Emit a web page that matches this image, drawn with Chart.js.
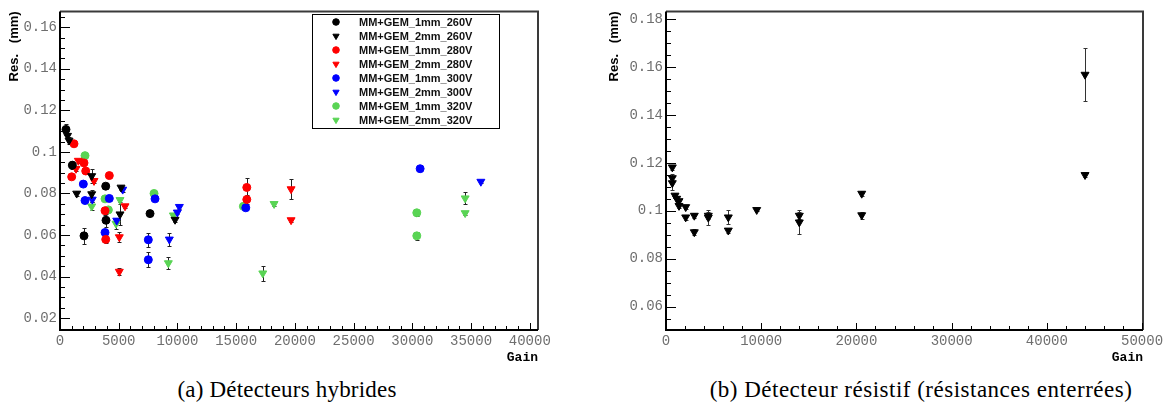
<!DOCTYPE html>
<html>
<head>
<meta charset="utf-8">
<script src="https://cdn.jsdelivr.net/npm/chart.js@4.4.0/dist/chart.umd.min.js"></script>
<style>
  body { margin: 0; background: #fff; width: 1168px; height: 410px; overflow: hidden; position: relative; }
  #boxA { position: absolute; left: 0; top: 0; width: 560px; height: 370px; }
  #boxB { position: absolute; left: 600px; top: 0; width: 568px; height: 370px; }
  .cap { position: absolute; top: 376px; font-family: "Liberation Serif", "DejaVu Serif", serif; font-size: 23px;
         letter-spacing: 0.2px; line-height: 28px; text-align: center; color: #000; white-space: nowrap; }
</style>
</head>
<body>
<div id="boxA"><canvas id="hybrid"></canvas></div>
<div id="boxB"><canvas id="resist"></canvas></div>
<div class="cap" style="left:0;width:574px">(a) Détecteurs hybrides</div>
<div class="cap" style="left:640px;width:562px;letter-spacing:0.5px">(b) Détecteur résistif (résistances enterrées)</div>
<script>
// ---- data ----
// (a) hybrid detectors
const gain_1mm_260V = [510, 1050, 2044, 3893, 3918, 7666];
const res_1mm_260V  = [0.1108, 0.0936, 0.0596, 0.0835, 0.0671, 0.0703];
const err_1mm_260V  = [0.0025, 0.0018, 0.0037, 0.0015, 0.003, 0.001];

const gain_2mm_260V = [640, 770, 1422, 2700, 2700, 5196, 5110, 9796];
const res_2mm_260V  = [0.1078, 0.1055, 0.0800, 0.0884, 0.0797, 0.0829, 0.0700, 0.0674];
const err_2mm_260V  = [0.0015, 0.0015, 0.0012, 0.0036, 0.002, 0.001, 0.005, 0.0012];

const gain_1mm_280V = [996, 1193, 2044, 2190, 4200, 3833, 3893, 15904, 15904];
const res_1mm_280V  = [0.0880, 0.1039, 0.0947, 0.0908, 0.0886, 0.0717, 0.0579, 0.0829, 0.0771];
const err_1mm_280V  = [0.001, 0.0013, 0.001, 0.0015, 0.0012, 0.002, 0.0015, 0.0045, 0.002];

const gain_2mm_280V = [1363, 1560, 2896, 5537, 5050, 5050, 19676, 19676];
const res_2mm_280V  = [0.0919, 0.0958, 0.0861, 0.0739, 0.0590, 0.0424, 0.0821, 0.0672];
const err_2mm_280V  = [0.001, 0.001, 0.0012, 0.001, 0.0025, 0.0015, 0.0048, 0.001];

const gain_1mm_300V = [1985, 2130, 4200, 3833, 7520, 7520, 8092, 15819, 30664];
const res_1mm_300V  = [0.0845, 0.0766, 0.0776, 0.0612, 0.0577, 0.0481, 0.0774, 0.0731, 0.0919];
const err_1mm_300V  = [0.001, 0.001, 0.001, 0.0015, 0.0033, 0.0035, 0.001, 0.001, 0.0012];

const gain_2mm_300V = [2750, 5340, 4830, 9310, 9992, 10163, 35835];
const res_2mm_300V  = [0.0771, 0.0819, 0.0670, 0.0579, 0.0709, 0.0736, 0.0857];
const err_2mm_300V  = [0.001, 0.001, 0.001, 0.003, 0.001, 0.001, 0.0008];

const gain_1mm_320V = [2130, 3833, 4117, 8007, 15614, 30380, 30380];
const res_1mm_320V  = [0.0982, 0.0774, 0.0721, 0.0800, 0.0738, 0.0707, 0.0596];
const err_1mm_320V  = [0.0012, 0.001, 0.001, 0.001, 0.001, 0.0015, 0.002];

const gain_2mm_320V = [2700, 5110, 4770, 9225, 9650, 17266, 18228, 34497, 34497];
const res_2mm_320V  = [0.0738, 0.0769, 0.0655, 0.0465, 0.0695, 0.0416, 0.0750, 0.0777, 0.0706];
const err_2mm_320V  = [0.002, 0.001, 0.0025, 0.003, 0.001, 0.0035, 0.001, 0.003, 0.001];

const xTicksA = [0, 5000, 10000, 15000, 20000, 25000, 30000, 35000, 40000];
const yTicksA = [0.02, 0.04, 0.06, 0.08, 0.1, 0.12, 0.14, 0.16];

// (b) resistive detector (buried resistors)
const gain_resist = [662, 662, 662, 945, 1124, 1366, 1366, 2069, 2069, 2973, 2973, 4443, 4443,
                     6544, 6544, 9527, 14002, 14002, 20557, 20557, 44012, 44012];
const res_resist  = [0.1182, 0.1137, 0.1116, 0.1064, 0.1051, 0.1041, 0.1021, 0.1016, 0.0973, 0.0980, 0.0911,
                     0.0980, 0.0972, 0.0973, 0.0918, 0.1004, 0.0980, 0.0952, 0.1072, 0.0982, 0.1569, 0.1150];
const err_resist  = [0.001, 0.0015, 0.003, 0.001, 0.001, 0.001, 0.001, 0.001, 0.001, 0.001, 0.0012,
                     0.0015, 0.003, 0.003, 0.001, 0.0005, 0.0015, 0.005, 0.001, 0.0015, 0.011, 0.001];

const xTicksB = [0, 10000, 20000, 30000, 40000, 50000];
const yTicksB = [0.06, 0.08, 0.1, 0.12, 0.14, 0.16, 0.18];

const GREEN = '#59d454';

function series(label, gain, res, err, color, tri) {
  return {
    label: label,
    data: gain.map((g, i) => ({ x: g, y: res[i], e: err[i] })),
    pointStyle: tri ? 'triangle' : 'circle',
    pointRotation: tri ? 180 : 0,
    pointRadius: tri ? 4.6 : 4,
    pointBorderWidth: 1,
    backgroundColor: color,
    borderColor: color,
    showLine: false
  };
}

// ROOT-like frame: inner ticks, error bars, boxed legend
const rootLook = {
  id: 'rootLook',
  beforeDatasetsDraw(chart, args, opts) {
    const ctx = chart.ctx, xs = chart.scales.x, ys = chart.scales.y;
    const a = chart.chartArea;
    ctx.save();
    ctx.beginPath(); ctx.rect(a.left, a.top, a.right - a.left, a.bottom - a.top); ctx.clip();
    ctx.lineWidth = 1;
    ctx.strokeStyle = opts.barColor || '#222';
    chart.data.datasets.forEach(ds => {
      ds.data.forEach(p => {
        if (!p.e) return;
        const px = Math.round(xs.getPixelForValue(p.x)) + 0.5;
        const y1 = Math.round(ys.getPixelForValue(p.y + p.e)) + 0.5;
        const y2 = Math.round(ys.getPixelForValue(p.y - p.e)) + 0.5;
        ctx.beginPath();
        ctx.moveTo(px, y1); ctx.lineTo(px, y2);
        ctx.moveTo(px - 2, y1); ctx.lineTo(px + 2, y1);
        ctx.moveTo(px - 2, y2); ctx.lineTo(px + 2, y2);
        ctx.stroke();
      });
    });
    ctx.restore();
  },
  afterDraw(chart, args, opts) {
    const ctx = chart.ctx, xs = chart.scales.x, ys = chart.scales.y;
    const a = chart.chartArea;
    ctx.save();
    // frame
    ctx.lineWidth = 2;
    ctx.strokeStyle = '#3a3a3a';
    ctx.beginPath();
    ctx.moveTo(a.left, a.top); ctx.lineTo(a.right, a.top); ctx.lineTo(a.right, a.bottom);
    ctx.stroke();
    ctx.strokeStyle = '#000';
    ctx.beginPath();
    ctx.moveTo(a.left, a.top); ctx.lineTo(a.left, a.bottom); ctx.lineTo(a.right, a.bottom);
    ctx.stroke();
    // ticks
    ctx.lineWidth = 1;
    ctx.beginPath();
    const ys0 = Math.ceil(ys.min / opts.yMinor - 1e-6), ys1 = Math.floor(ys.max / opts.yMinor + 1e-6);
    for (let k = ys0; k <= ys1; k++) {
      const py = Math.round(ys.getPixelForValue(k * opts.yMinor)) + 0.5;
      const len = (k % opts.yRatio === 0) ? 10 : 5;
      ctx.moveTo(a.left, py); ctx.lineTo(a.left + len, py);
    }
    const xs0 = Math.ceil(xs.min / opts.xMinor), xs1 = Math.floor(xs.max / opts.xMinor);
    for (let k = xs0; k <= xs1; k++) {
      const px = Math.round(xs.getPixelForValue(k * opts.xMinor)) + 0.5;
      const len = (k % opts.xRatio === 0) ? 7 : 4;
      ctx.moveTo(px, a.bottom); ctx.lineTo(px, a.bottom - len);
    }
    ctx.stroke();
    // legend
    if (opts.legend) {
      const L = opts.legend;
      ctx.lineWidth = 1;
      ctx.strokeStyle = '#000';
      ctx.strokeRect(L.x + 0.5, L.y + 0.5, L.w, L.h);
      ctx.font = 'bold 11px "Liberation Sans", Arial, sans-serif';
      ctx.textBaseline = 'middle';
      chart.data.datasets.forEach((ds, i) => {
        const cy = L.y + 8 + i * 14;
        ctx.fillStyle = ds.backgroundColor;
        ctx.strokeStyle = ds.borderColor;
        Chart.helpers.drawPoint(ctx, {
          pointStyle: ds.pointStyle, rotation: ds.pointRotation,
          radius: ds.pointStyle === 'triangle' ? 3.6 : 3.3, borderWidth: 1
        }, L.x + 24, cy);
        ctx.fillStyle = '#111';
        ctx.fillText(ds.label, L.x + 47, cy + 0.5);
      });
    }
    ctx.restore();
  }
};

const tickFont = { family: 'Liberation Mono, DejaVu Sans Mono, monospace', size: 14, weight: 'normal' };
const tickColor = '#6e6e6e';

function axes(xmax, xTicks, ymin, ymax, yTicks, yWidth) {
  return {
    x: {
      type: 'linear', min: 0, max: xmax,
      afterBuildTicks: s => { s.ticks = xTicks.map(v => ({ value: v })); },
      afterFit: s => { s.height = 40; },
      grid: { display: false, drawTicks: false },
      border: { display: false },
      ticks: { font: tickFont, color: tickColor, padding: 3, autoSkip: false, maxRotation: 0,
               callback: v => String(v) },
      title: { display: true, text: 'Gain', align: 'end', color: '#000',
               font: { family: 'Liberation Mono, monospace', weight: 'bold', size: 13 },
               padding: { top: 0, bottom: 4 } }
    },
    y: {
      type: 'linear', min: ymin, max: ymax,
      afterBuildTicks: s => { s.ticks = yTicks.map(v => ({ value: v })); },
      afterFit: s => { s.width = yWidth; },
      grid: { display: false, drawTicks: false },
      border: { display: false },
      ticks: { font: tickFont, color: tickColor, padding: 3,
               callback: v => String(+v.toFixed(2)) },
      title: { display: true, text: 'Res.   (mm)', align: 'end', color: '#000',
               font: { family: 'Liberation Sans, Arial, sans-serif', weight: 'bold', size: 13 },
               padding: { top: 7, bottom: 0 } }
    }
  };
}

new Chart(document.getElementById('hybrid'), {
  type: 'scatter',
  data: {
    datasets: [
      series('MM+GEM_1mm_260V', gain_1mm_260V, res_1mm_260V, err_1mm_260V, '#000', false),
      series('MM+GEM_2mm_260V', gain_2mm_260V, res_2mm_260V, err_2mm_260V, '#000', true),
      series('MM+GEM_1mm_280V', gain_1mm_280V, res_1mm_280V, err_1mm_280V, '#ff0000', false),
      series('MM+GEM_2mm_280V', gain_2mm_280V, res_2mm_280V, err_2mm_280V, '#ff0000', true),
      series('MM+GEM_1mm_300V', gain_1mm_300V, res_1mm_300V, err_1mm_300V, '#0000ff', false),
      series('MM+GEM_2mm_300V', gain_2mm_300V, res_2mm_300V, err_2mm_300V, '#0000ff', true),
      series('MM+GEM_1mm_320V', gain_1mm_320V, res_1mm_320V, err_1mm_320V, GREEN, false),
      series('MM+GEM_2mm_320V', gain_2mm_320V, res_2mm_320V, err_2mm_320V, GREEN, true)
    ]
  },
  options: {
    responsive: true, maintainAspectRatio: false, animation: false,
    layout: { padding: { top: 6, right: 22, left: 0, bottom: 0 } },
    scales: axes(40700, xTicksA, 0.0143, 0.1676, yTicksA, 60),
    plugins: {
      legend: { display: false }, tooltip: { enabled: false },
      rootLook: { xMinor: 1000, xRatio: 5, yMinor: 0.005, yRatio: 4,
                  legend: { x: 312, y: 14, w: 187, h: 114 } }
    }
  },
  plugins: [rootLook]
});

new Chart(document.getElementById('resist'), {
  type: 'scatter',
  data: {
    datasets: [
      series('Résistif', gain_resist, res_resist, err_resist, '#000', true)
    ]
  },
  options: {
    responsive: true, maintainAspectRatio: false, animation: false,
    layout: { padding: { top: 5, right: 25, left: 0, bottom: 0 } },
    scales: axes(50100, xTicksB, 0.0502, 0.1833, yTicksB, 66),
    plugins: {
      legend: { display: false }, tooltip: { enabled: false },
      rootLook: { xMinor: 2000, xRatio: 5, yMinor: 0.005, yRatio: 4, barColor: '#333' }
    }
  },
  plugins: [rootLook]
});
</script>
</body>
</html>
